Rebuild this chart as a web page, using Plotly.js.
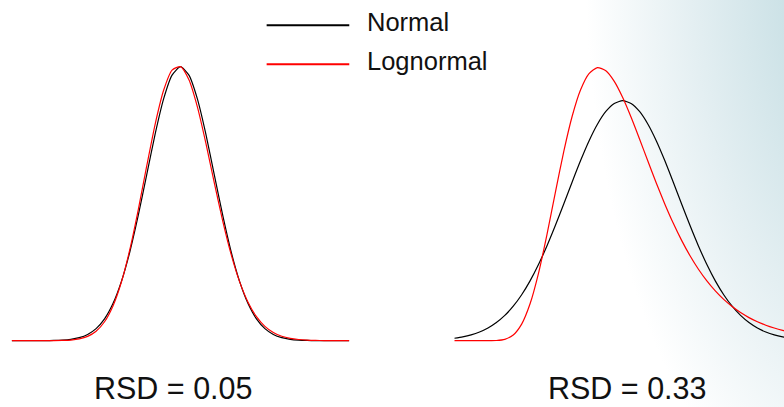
<!DOCTYPE html>
<html>
<head>
<meta charset="utf-8">
<script src="https://cdn.plot.ly/plotly-3.0.1.min.js"></script>
<style>
  html, body { margin: 0; padding: 0; }
  body {
    width: 784px; height: 407px; overflow: hidden;
    background: radial-gradient(ellipse 300px 600px at 885px -40px, #b7d2da 0%, #c9e0e5 30%, #e4eff2 65%, #ffffff 100%);
  }
  #chart { width: 784px; height: 407px; }
</style>
</head>
<body>
<div id="chart"></div>
<script>
// ---- Panel 1: RSD = 0.05 (mean 100) ----
const xLeft = [75, 76.25, 77.5, 78.75, 80, 81.25, 82.5, 83.75, 85, 86.25, 87.5, 88.75, 90, 91.25, 92.5, 93.75, 95, 96.25, 97.5, 98.75, 100,
  101.25, 102.5, 103.75, 105, 106.25, 107.5, 108.75, 110, 111.25, 112.5, 113.75, 115, 116.25, 117.5, 118.75, 120, 121.25, 122.5, 123.75, 125];
const normalLeft = [0.0000, 0.0001, 0.0003, 0.0010, 0.0027, 0.0071, 0.0175, 0.0406, 0.0886, 0.182, 0.351, 0.635, 1.080, 1.726, 2.590, 3.653, 4.839, 6.023, 7.041, 7.733, 7.979,
  7.733, 7.041, 6.023, 4.839, 3.653, 2.590, 1.726, 1.080, 0.635, 0.351, 0.182, 0.0886, 0.0406, 0.0175, 0.0071, 0.0027, 0.0010, 0.0003, 0.0001, 0.0000];
const lognormalLeft = [0.0000, 0.0000, 0.0000, 0.0001, 0.0005, 0.0019, 0.0064, 0.0192, 0.0514, 0.1246, 0.2744, 0.5511, 1.0123, 1.7083, 2.6562, 3.8184, 5.0894, 6.3085, 7.2915, 7.8796, 7.9813,
  7.5955, 6.8071, 5.7575, 4.6054, 3.4909, 2.5124, 1.7199, 1.1219, 0.6987, 0.4159, 0.2370, 0.1295, 0.0679, 0.0343, 0.0167, 0.0078, 0.0035, 0.0015, 0.0007, 0.0003];

// ---- Panel 2: RSD = 0.33 (mean 100) ----
const xRight = [0, 5, 10, 15, 20, 25, 30, 35, 40, 45, 50, 55, 60, 65, 70, 75, 80, 85, 90, 95, 100,
  105, 110, 115, 120, 125, 130, 135, 140, 145, 150, 155, 160, 165, 170, 175, 180, 185, 190, 195, 200];
const normalRight = [0.0122, 0.0192, 0.0293, 0.0438, 0.0640, 0.0914, 0.1274, 0.1737, 0.2315, 0.3014, 0.3836, 0.4771, 0.5799, 0.6888, 0.7997, 0.9073, 1.0061, 1.0903, 1.1547, 1.1951, 1.2089,
  1.1951, 1.1547, 1.0903, 1.0061, 0.9073, 0.7997, 0.6888, 0.5799, 0.4771, 0.3836, 0.3014, 0.2315, 0.1737, 0.1274, 0.0914, 0.0640, 0.0438, 0.0293, 0.0192, 0.0122];
const lognormalRight = [0, 0, 0, 0, 0.0000, 0.0009, 0.0067, 0.0286, 0.0834, 0.1857, 0.3391, 0.5330, 0.7459, 0.9526, 1.1304, 1.2638, 1.3455, 1.3756, 1.3596, 1.3062, 1.2249,
  1.1254, 1.0161, 0.9037, 0.7934, 0.6889, 0.5924, 0.5052, 0.4277, 0.3598, 0.3010, 0.2507, 0.2079, 0.1718, 0.1415, 0.1163, 0.0954, 0.0780, 0.0638, 0.0520, 0.0424];

const seriesNames = ["Normal", "Lognormal"];
const panelLabels = ["RSD = 0.05", "RSD = 0.33"];

const FONT = '"Liberation Sans", Arial, Helvetica, sans-serif';
const lineStyle = (c) => ({ color: c, width: 1.2, shape: 'spline', smoothing: 0.6 });

const traces = [
  { x: xLeft, y: normalLeft, name: seriesNames[0], mode: 'lines', line: lineStyle('#000000'), xaxis: 'x', yaxis: 'y' },
  { x: xLeft, y: lognormalLeft, name: seriesNames[1], mode: 'lines', line: lineStyle('#ff0000'), xaxis: 'x', yaxis: 'y' },
  { x: xRight, y: normalRight, name: seriesNames[0], mode: 'lines', line: lineStyle('#000000'), xaxis: 'x2', yaxis: 'y2' },
  { x: xRight, y: lognormalRight, name: seriesNames[1], mode: 'lines', line: lineStyle('#ff0000'), xaxis: 'x2', yaxis: 'y2' }
];

const hidden = { visible: false, showgrid: false, zeroline: false, showticklabels: false, fixedrange: true };

const layout = {
  width: 784, height: 407,
  margin: { l: 0, r: 0, t: 0, b: 0, pad: 0 },
  paper_bgcolor: 'rgba(0,0,0,0)',
  plot_bgcolor: 'rgba(0,0,0,0)',
  showlegend: false,
  font: { family: FONT, color: '#111111' },
  xaxis: Object.assign({ domain: [0.01492, 0.44554], range: [75, 125], anchor: 'y' }, hidden),
  yaxis: Object.assign({ domain: [0, 1], range: [-1.931, 9.921], anchor: 'x' }, hidden),
  xaxis2: Object.assign({ domain: [0.57946, 1], range: [0, 195.8], anchor: 'y2' }, hidden),
  yaxis2: Object.assign({ domain: [0, 1], range: [-0.334, 1.716], anchor: 'x2' }, hidden),
  shapes: [
    { type: 'line', xref: 'paper', yref: 'paper', x0: 0.3401, x1: 0.4455, y0: 0.9378, y1: 0.9378, line: { color: '#000000', width: 2 } },
    { type: 'line', xref: 'paper', yref: 'paper', x0: 0.3401, x1: 0.4455, y0: 0.842, y1: 0.842, line: { color: '#ff0000', width: 2 } }
  ],
  annotations: [
    { text: seriesNames[0], xref: 'paper', yref: 'paper', x: 0.4655, y: 0.946, xanchor: 'left', yanchor: 'middle', showarrow: false, font: { size: 25.5, family: FONT, color: '#111111' } },
    { text: seriesNames[1], xref: 'paper', yref: 'paper', x: 0.4655, y: 0.850, xanchor: 'left', yanchor: 'middle', showarrow: false, font: { size: 25.5, family: FONT, color: '#111111' } },
    { text: panelLabels[0], xref: 'paper', yref: 'paper', x: 0.2219, y: 0.0467, xanchor: 'center', yanchor: 'middle', borderpad: 0, showarrow: false, font: { size: 30.5, family: FONT, color: '#111111' } },
    { text: panelLabels[1], xref: 'paper', yref: 'paper', x: 0.801, y: 0.0467, xanchor: 'center', yanchor: 'middle', borderpad: 0, showarrow: false, font: { size: 30.5, family: FONT, color: '#111111' } }
  ]
};

Plotly.newPlot('chart', traces, layout, { displayModeBar: false, staticPlot: true });
</script>
</body>
</html>
